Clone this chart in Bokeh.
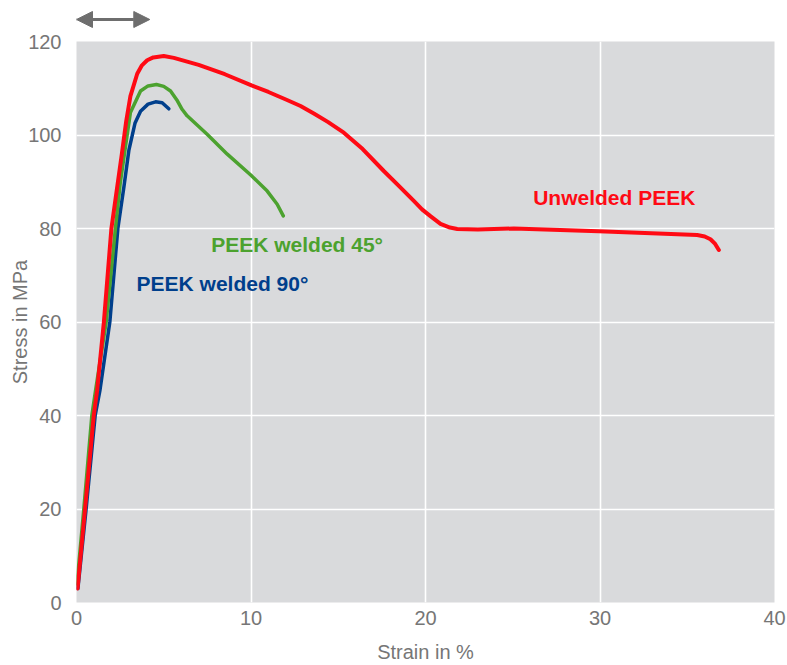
from bokeh.plotting import figure
from bokeh.layouts import column
from bokeh.models import Range1d, FixedTicker, Arrow, NormalHead, ColumnDataSource
from bokeh.core.properties import value
from bokeh.embed import file_html
from bokeh.resources import INLINE

# ---- data ----
unwelded_strain = [0.06, 0.49, 0.99, 1.18, 1.57, 2.0, 2.3, 2.6, 2.85, 3.09, 3.48, 3.75, 4.05, 4.4, 5.0, 5.58,
                   7.0, 8.5, 10.03, 11.0, 12.0, 12.84, 13.6, 14.4, 15.32, 16.4, 17.61, 18.5, 19.33,
                   19.8, 20.3, 20.86, 21.4, 21.82, 23.0, 25.06, 29.93, 35.57, 36.0, 36.33, 36.6, 36.81]
unwelded_stress = [3.0, 20.0, 40.0, 45.3, 60.0, 80.0, 88.0, 96.0, 103.0, 108.3, 113.1, 114.9, 116.0, 116.6, 116.9, 116.5,
                   115.0, 113.0, 110.6, 109.2, 107.6, 106.2, 104.6, 102.8, 100.5, 97.0, 92.3, 89.0, 85.9,
                   84.1, 82.6, 81.0, 80.2, 79.9, 79.8, 80.0, 79.4, 78.6, 78.3, 77.7, 76.7, 75.4]

w45_strain = [0.03, 0.42, 0.88, 1.09, 1.7, 2.23, 2.5, 2.77, 3.09, 3.67, 4.1, 4.58, 5.0, 5.39, 5.75,
              6.05, 6.34, 7.5, 8.64, 10.0, 10.93, 11.5, 11.85]
w45_stress = [4.0, 20.0, 40.0, 45.3, 60.0, 80.0, 89.5, 96.6, 104.8, 109.4, 110.5, 110.8, 110.4, 109.4, 107.5,
              105.5, 104.1, 100.1, 95.9, 91.4, 88.0, 85.2, 82.7]

w90_strain = [0.08, 0.55, 1.07, 1.34, 1.91, 2.37, 2.71, 3.0, 3.35, 3.67, 4.1, 4.53, 4.91, 5.29]
w90_stress = [3.0, 20.0, 40.0, 45.3, 60.0, 80.0, 88.7, 96.7, 102.5, 105.1, 106.6, 107.1, 106.9, 105.6]

label_texts = ["Unwelded PEEK", "PEEK welded 45°", "PEEK welded 90°"]
label_x = [26.17, 7.72, 3.44]
label_y = [86.7, 76.5, 68.2]

x_ticks = [0, 10, 20, 30, 40]
y_ticks = [0, 20, 40, 60, 80, 100, 120]

arrow_x = [0.0, 4.2]
arrow_y = 0.345

RED = "#ff0a14"
GREEN = "#4ca22f"
BLUE = "#003f8c"
label_colors = [RED, GREEN, BLUE]
GREY_TXT = "#767676"
FONT = "Liberation Sans"

xr = Range1d(0, 40)

# strip above the chart holding the double arrow
top = figure(width=787, height=29, output_backend="svg", toolbar_location=None,
             x_range=xr, y_range=Range1d(0, 1), x_axis_type=None, y_axis_type=None,
             min_border_left=76, min_border_right=13, min_border_top=0, min_border_bottom=0)
top.outline_line_color = None
top.background_fill_color = "white"
top.border_fill_color = "white"

ARROW_GREY = "#6e6e6e"
top.add_layout(Arrow(x_start=arrow_x[0], x_end=arrow_x[1], y_start=arrow_y, y_end=arrow_y,
                     line_color=ARROW_GREY, line_width=3,
                     start=NormalHead(size=16, fill_color=ARROW_GREY, line_color=ARROW_GREY),
                     end=NormalHead(size=16, fill_color=ARROW_GREY, line_color=ARROW_GREY)))

p = figure(width=787, height=636, output_backend="svg", toolbar_location=None,
           x_range=xr, y_range=Range1d(0, 120),
           min_border_left=76, min_border_right=13, min_border_top=12, min_border_bottom=63)
p.background_fill_color = "#d9dadc"
p.border_fill_color = "white"
p.outline_line_color = None

p.xgrid.ticker = FixedTicker(ticks=[10, 20, 30])
p.ygrid.ticker = FixedTicker(ticks=[20, 40, 60, 80, 100])
p.grid.grid_line_color = "white"
p.grid.grid_line_width = 1.6

for ax in (p.xaxis, p.yaxis):
    ax.axis_line_color = None
    ax.major_tick_line_color = None
    ax.minor_tick_line_color = None
    ax.major_tick_out = 0
    ax.minor_tick_out = 0
    ax.major_tick_in = 0
    ax.minor_tick_in = 0
    ax.major_label_text_font = FONT
    ax.major_label_text_font_size = "20px"
    ax.major_label_text_color = GREY_TXT
    ax.axis_label_text_font = FONT
    ax.axis_label_text_font_size = "20px"
    ax.axis_label_text_font_style = "normal"
    ax.axis_label_text_color = GREY_TXT

p.xaxis.ticker = FixedTicker(ticks=x_ticks)
p.yaxis.ticker = FixedTicker(ticks=y_ticks)
p.xaxis.axis_label = "Strain in %"
p.yaxis.axis_label = "Stress in MPa"
p.xaxis.major_label_standoff = 8
p.xaxis.axis_label_standoff = 13
p.yaxis.major_label_standoff = 15
p.yaxis.axis_label_standoff = -6

p.line(w90_strain, w90_stress, line_color=BLUE, line_width=3.5, line_join="round", line_cap="round")
p.line(w45_strain, w45_stress, line_color=GREEN, line_width=3.5, line_join="round", line_cap="round")
p.line(unwelded_strain, unwelded_stress, line_color=RED, line_width=4, line_join="round", line_cap="round")

src = ColumnDataSource(dict(x=label_x, y=label_y, text=label_texts, color=label_colors))
p.text(x="x", y="y", text="text", text_color="color", source=src,
       text_font=value(FONT), text_font_style="bold", text_font_size="21px",
       text_baseline="alphabetic", text_align="left")

layout = column(top, p, spacing=0)
open("out.html", "w").write(file_html(layout, INLINE))
